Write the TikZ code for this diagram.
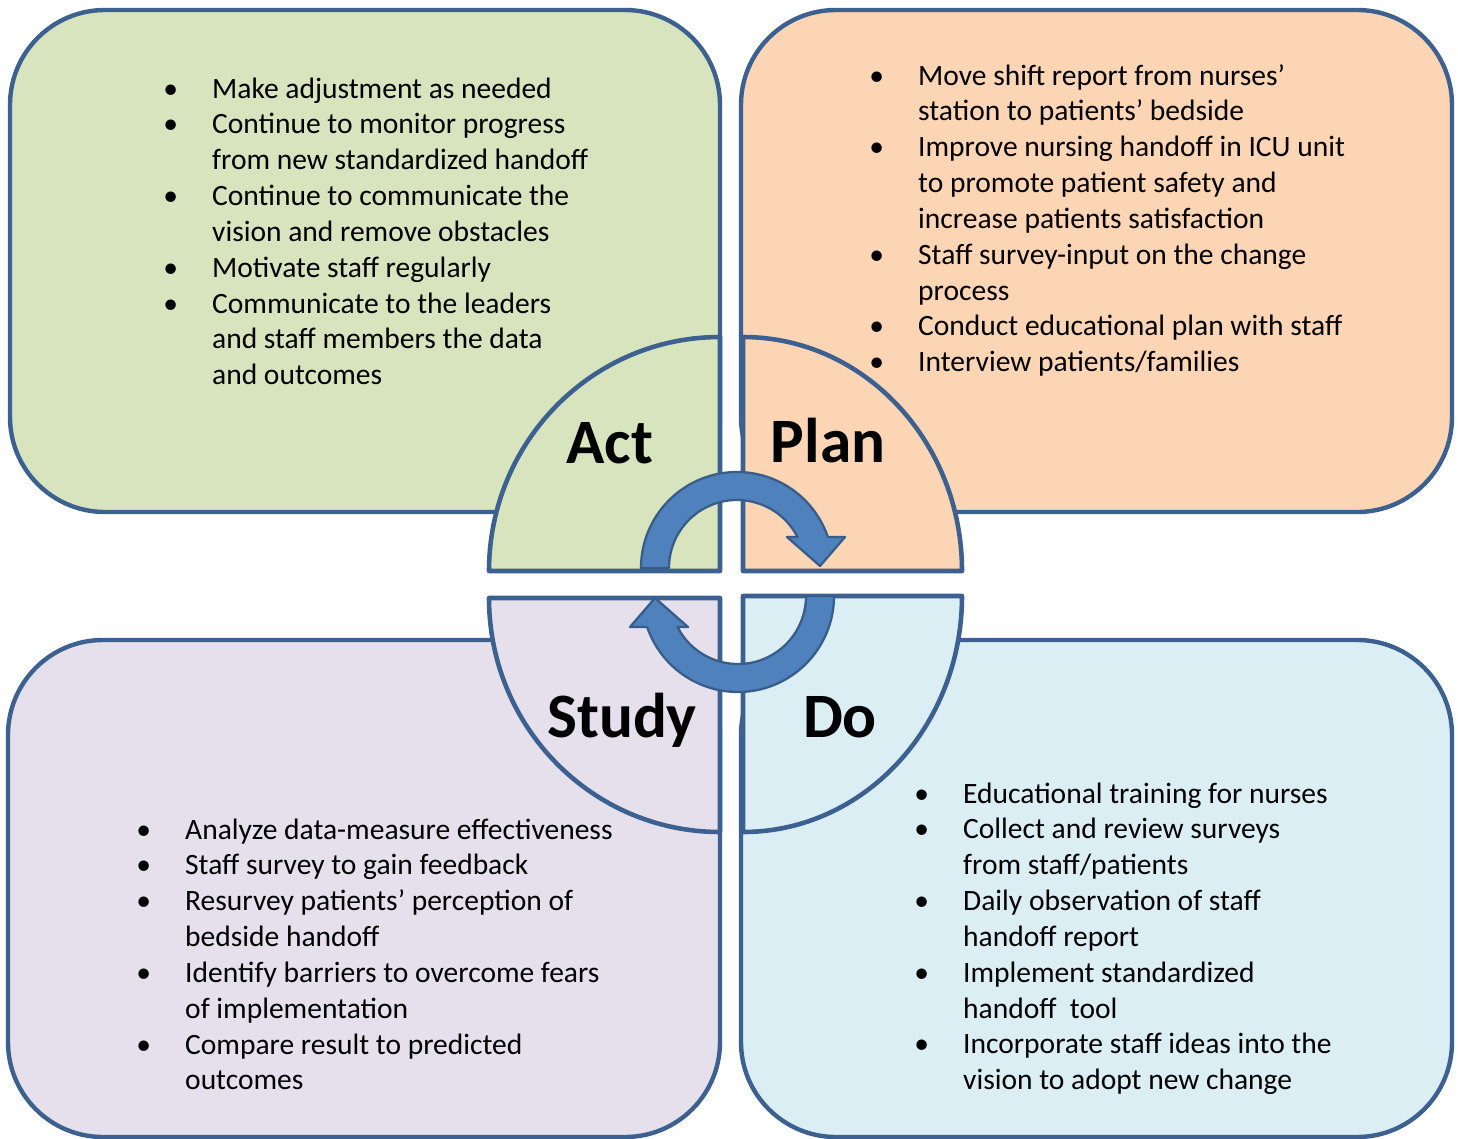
\documentclass[tikz,border=0pt]{standalone}
\usepackage{fontspec}
\setmainfont{Carlito}
\definecolor{pdcaline}{RGB}{60, 96, 143}
\definecolor{actgreen}{RGB}{215, 228, 189}
\definecolor{planorange}{RGB}{252, 213, 181}
\definecolor{studylilac}{RGB}{229, 224, 236}
\definecolor{doblue}{RGB}{219, 238, 244}
\definecolor{arrowblue}{RGB}{79, 129, 189}
\definecolor{arrowedge}{RGB}{56, 93, 138}

\tikzset{
  phasebox/.style={draw=pdcaline, line width=2.5pt, rounded corners=54pt},
  quarter/.style={draw=pdcaline, line width=2.6pt, line join=round},
  phaselabel/.style={font=\fontsize{36}{40}\selectfont\bfseries, anchor=base},
  bullets/.style={font=\fontsize{16.8}{20.4}\selectfont, inner sep=0pt, anchor=base west},
  cyclearrow/.pic={
    \filldraw[fill=arrowblue, draw=arrowedge, line width=1.3pt, line join=round]
      (-96,0) arc[start angle=180, end angle=341.2, radius=96]
      -- (108,-31) -- (83,-2) -- (50,-31) -- (60.5,-31)
      arc[start angle=332.9, end angle=180, radius=68] -- cycle;
  }
}

\begin{document}
\begin{tikzpicture}[x=0.02cm, y=-0.02cm]
    \useasboundingbox (0,0) rectangle (1458,1139);

    %% the four outer boxes
    \draw[phasebox, fill=actgreen]   (10,10)   rectangle (720,512);
    \draw[phasebox, fill=planorange] (741,10)  rectangle (1452,512);
    \draw[phasebox, fill=studylilac] (8,640)   rectangle (720,1137);
    \draw[phasebox, fill=doblue]     (741,640) rectangle (1452,1137);

    %% quarter circles in the middle
    \draw[quarter, fill=actgreen] (720,571) -- ++(-231,0)
      arc[start angle=180, end angle=270, x radius=231, y radius=234] -- cycle;
    \draw[quarter, fill=planorange] (743,571) -- ++(0,-234)
      arc[start angle=270, end angle=360, x radius=219, y radius=234] -- cycle;
    \draw[quarter, fill=studylilac] (720,598) -- ++(-231,0)
      arc[start angle=180, end angle=90, x radius=231, y radius=234] -- cycle;
    \draw[quarter, fill=doblue] (743,596) -- ++(219,0)
      arc[start angle=0, end angle=90, x radius=219, y radius=236] -- cycle;

    %% cycle arrows
    \pic at (737,568) {cyclearrow};
    \pic[rotate=180] at (738,596) {cyclearrow};

    \node[phaselabel] (act)   at (610,463) {Act};
    \node[phaselabel] (plan)  at (828,462) {Plan};
    \node[phaselabel] (study) at (622,737) {Study};
    \node[phaselabel] (do)    at (840,737) {Do};

    %% item lists
    \node[bullets] (actlist) at (163,98) {\begin{tabular}[t]{@{}p{27.8pt}@{}l@{}}
      \textbullet & Make adjustment as needed\\
      \textbullet & Continue to monitor progress\\
                  & from new standardized handoff\\
      \textbullet & Continue to communicate the\\
                  & vision and remove obstacles\\
      \textbullet & Motivate staff regularly\\
      \textbullet & Communicate to the leaders\\
                  & and staff members the data\\
                  & and outcomes
    \end{tabular}};

    \node[bullets] (planlist) at (869,85) {\begin{tabular}[t]{@{}p{27.8pt}@{}l@{}}
      \textbullet & Move shift report from nurses'\\
                  & station to patients' bedside\\
      \textbullet & Improve nursing handoff in ICU unit\\
                  & to promote patient safety and\\
                  & increase patients satisfaction\\
      \textbullet & Staff survey-input on the change\\
                  & process\\
      \textbullet & Conduct educational plan with staff\\
      \textbullet & Interview patients/families
    \end{tabular}};

    \node[bullets] (studylist) at (136,839) {\begin{tabular}[t]{@{}p{27.8pt}@{}l@{}}
      \textbullet & Analyze data-measure effectiveness\\
      \textbullet & Staff survey to gain feedback\\
      \textbullet & Resurvey patients' perception of\\
                  & bedside handoff\\
      \textbullet & Identify barriers to overcome fears\\
                  & of implementation\\
      \textbullet & Compare result to predicted\\
                  & outcomes
    \end{tabular}};

    \node[bullets] (dolist) at (914,803) {\begin{tabular}[t]{@{}p{27.8pt}@{}l@{}}
      \textbullet & Educational training for nurses\\
      \textbullet & Collect and review surveys\\
                  & from staff/patients\\
      \textbullet & Daily observation of staff\\
                  & handoff report\\
      \textbullet & Implement standardized\\
                  & handoff\ \ tool\\
      \textbullet & Incorporate staff ideas into the\\
                  & vision to adopt new change
    \end{tabular}};
\end{tikzpicture}
\end{document}
